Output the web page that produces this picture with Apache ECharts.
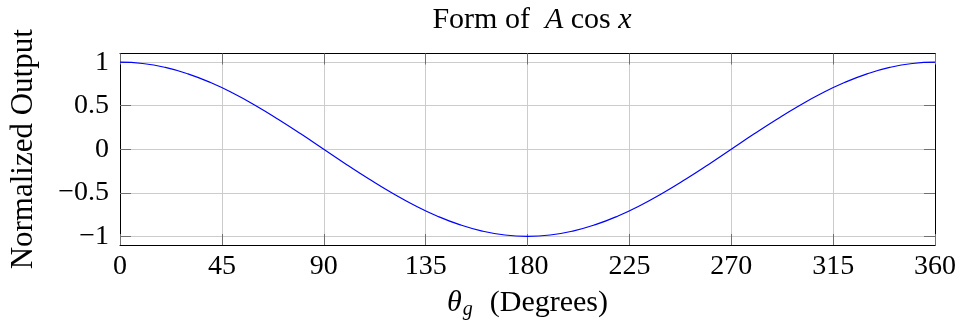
<!DOCTYPE html>
<html>
<head>
<meta charset="utf-8">
<script src="https://cdn.jsdelivr.net/npm/echarts@6/dist/echarts.min.js"></script>
<style>
  html, body { margin: 0; padding: 0; background: #fff; }
  #chart { width: 961px; height: 336px; }
</style>
</head>
<body>
<div id="chart"></div>
<script>
// angles in degrees, values every 10°
const angles = [0, 10, 20, 30, 40, 50, 60, 70, 80, 90, 100, 110, 120, 130, 140, 150, 160, 170, 180,
  190, 200, 210, 220, 230, 240, 250, 260, 270, 280, 290, 300, 310, 320, 330, 340, 350, 360];
const output = [1, 0.985, 0.94, 0.866, 0.766, 0.643, 0.5, 0.342, 0.174, 0,
  -0.174, -0.342, -0.5, -0.643, -0.766, -0.866, -0.94, -0.985, -1,
  -0.985, -0.94, -0.866, -0.766, -0.643, -0.5, -0.342, -0.174, 0,
  0.174, 0.342, 0.5, 0.643, 0.766, 0.866, 0.94, 0.985, 1];
const yTicks = [-1, -0.5, 0, 0.5, 1];

const FONT = '"Liberation Serif", "DejaVu Serif", serif';
const GRID_COLOR = '#cccccc';
const TICK_COLOR = '#707070';

const chart = echarts.init(document.getElementById('chart'));

// frame axes (top / right) only carry inner ticks
const frameX = {
  type: 'value', position: 'top', min: 0, max: 360, interval: 45,
  axisLine: { show: true, onZero: false, lineStyle: { color: '#000', width: 1 } },
  axisTick: { inside: true, length: 11, lineStyle: { color: TICK_COLOR } },
  axisLabel: { show: false },
  splitLine: { show: false }
};
const frameY = {
  type: 'value', position: 'right', min: -1.1, max: 1.1,
  axisLine: { show: true, onZero: false, lineStyle: { color: '#000', width: 1 } },
  axisTick: { show: true, inside: true, length: 11, customValues: yTicks, lineStyle: { color: TICK_COLOR } },
  axisLabel: { show: false, customValues: yTicks },
  splitLine: { show: false }
};

chart.setOption({
  animation: false,
  backgroundColor: '#fff',
  title: {
    text: '{r|Form of  }{i|A}{r| cos }{i|x}',
    left: 527,
    textAlign: 'center',
    top: 0,
    textStyle: {
      fontWeight: 'normal',
      rich: {
        r: { fontFamily: FONT, fontSize: 30, fontWeight: 'normal', color: '#000' },
        i: { fontFamily: FONT, fontSize: 30, fontWeight: 'normal', fontStyle: 'italic', color: '#000' }
      }
    }
  },
  grid: { left: 118.5, right: 26, top: 53.5, bottom: 91 },
  xAxis: [{
    type: 'value',
    min: 0,
    max: 360,
    interval: 45,
    name: '{i|θ}{sub|g}{r|  (Degrees)}',
    nameLocation: 'middle',
    nameGap: 43,
    nameTextStyle: {
      rich: {
        i: { fontFamily: FONT, fontSize: 30, fontStyle: 'italic', color: '#000', lineHeight: 34, verticalAlign: 'top' },
        sub: { fontFamily: FONT, fontSize: 20, fontStyle: 'italic', color: '#000', lineHeight: 20, padding: [12, 2, 0, 1], verticalAlign: 'top' },
        r: { fontFamily: FONT, fontSize: 30, color: '#000', lineHeight: 34, verticalAlign: 'top' }
      }
    },
    axisLine: { onZero: false, lineStyle: { color: '#000', width: 1 } },
    axisTick: { inside: true, length: 11, lineStyle: { color: TICK_COLOR } },
    axisLabel: { fontFamily: FONT, fontSize: 28, color: '#000', margin: 8 },
    splitLine: { show: true, lineStyle: { color: GRID_COLOR, width: 1 } }
  }, frameX],
  yAxis: [{
    type: 'value',
    min: -1.1,
    max: 1.1,
    name: 'Normalized Output',
    nameLocation: 'middle',
    nameGap: 81,
    nameTextStyle: { fontFamily: FONT, fontSize: 31, color: '#000' },
    axisLine: { show: true, onZero: false, lineStyle: { color: '#000', width: 1 } },
    axisTick: { show: true, inside: true, length: 11, customValues: yTicks, lineStyle: { color: TICK_COLOR } },
    axisLabel: {
      fontFamily: FONT, fontSize: 28, color: '#000', margin: 11,
      customValues: yTicks,
      formatter: (v) => String(v).replace('-', '\u2212')
    },
    splitLine: { show: true, lineStyle: { color: GRID_COLOR, width: 1 } }
  }, frameY],
  series: [{
    type: 'line',
    data: angles.map((a, i) => [a, output[i]]),
    smooth: 0.5,
    showSymbol: false,
    lineStyle: { color: '#0000ff', width: 1.2 },
    z: 3
  }]
});
</script>
</body>
</html>
